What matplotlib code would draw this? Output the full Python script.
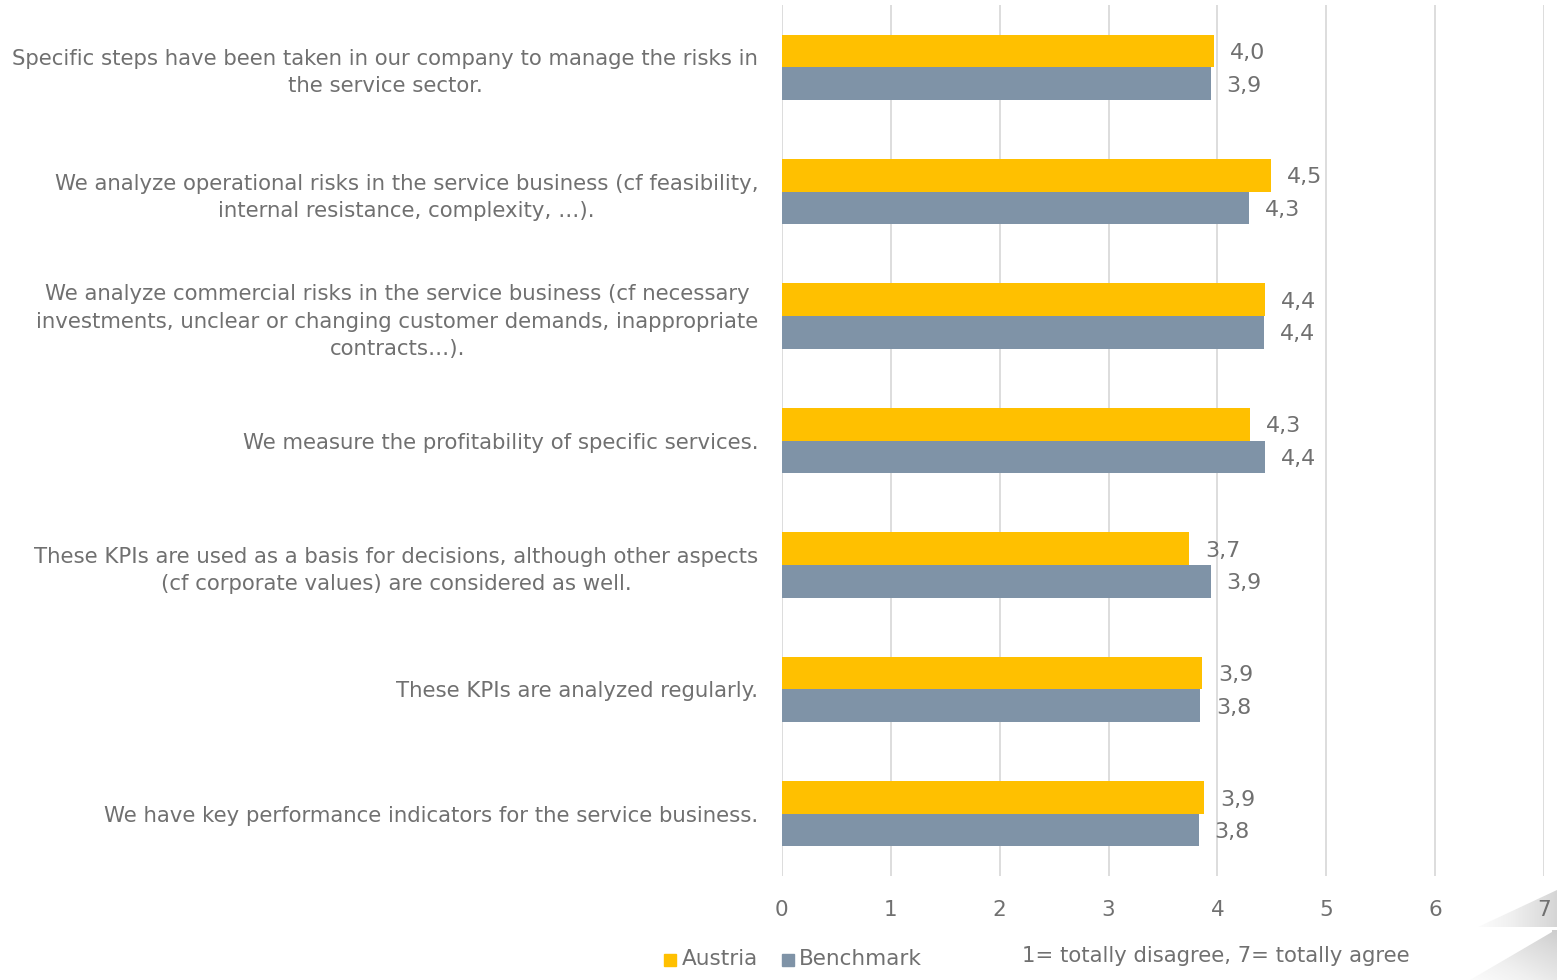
import numpy as np
import matplotlib.pyplot as plt
from matplotlib.patches import Rectangle, Polygon

plt.rcParams['font.family'] = ['DejaVu Sans']

# data, top to bottom
statements = [
    "Specific steps have been taken in our company to manage the risks in\nthe service sector.",
    "We analyze operational risks in the service business (cf feasibility,\ninternal resistance, complexity, \u2026).",
    "We analyze commercial risks in the service business (cf necessary\ninvestments, unclear or changing customer demands, inappropriate\ncontracts\u2026).",
    "We measure the profitability of specific services.",
    "These KPIs are used as a basis for decisions, although other aspects\n(cf corporate values) are considered as well.",
    "These KPIs are analyzed regularly.",
    "We have key performance indicators for the service business.",
]
austria = [3.97, 4.49, 4.44, 4.30, 3.74, 3.86, 3.88]
benchmark = [3.94, 4.29, 4.43, 4.44, 3.94, 3.84, 3.83]
x_ticks = [0, 1, 2, 3, 4, 5, 6, 7]
scale_note = "1= totally disagree, 7= totally agree"

yellow = '#FFC000'
grey_blue = '#7F93A7'
text_col = '#707070'

fig = plt.figure(figsize=(15.57, 9.8), dpi=100)
ax = fig.add_axes([0.5022, 0.1061, 0.4895, 0.8888])

y = np.arange(len(statements))
h = 0.262
ax.barh(y - h / 2, austria, height=h, color=yellow, zorder=3, label='Austria')
ax.barh(y + h / 2, benchmark, height=h, color=grey_blue, zorder=3, label='Benchmark')

for i in range(len(statements)):
    ax.text(austria[i] + 0.145, y[i] - h / 2, f"{austria[i]:.1f}".replace('.', ','),
            va='center_baseline', ha='left', fontsize=16, color=text_col)
    ax.text(benchmark[i] + 0.145, y[i] + h / 2, f"{benchmark[i]:.1f}".replace('.', ','),
            va='center_baseline', ha='left', fontsize=16, color=text_col)

ax.set_xlim(0, 7)
ax.set_ylim(len(statements) - 0.5, -0.5)
ax.set_xticks(x_ticks)
ax.set_yticks(y)
ax.set_yticklabels(statements, fontsize=15.3, color=text_col, multialignment='center',
                   linespacing=1.45)
ax.tick_params(axis='x', length=0, labelsize=15.5, labelcolor=text_col, pad=17)
ax.tick_params(axis='y', length=0, pad=17)
ax.grid(axis='x', color='#DDDDDD', linewidth=1.4, zorder=0)
for s in ax.spines.values():
    s.set_visible(False)

# legend
fig.patches.append(Rectangle((664 / 1557, 1 - 966 / 980), 12 / 1557, 12 / 980,
                             transform=fig.transFigure, color=yellow))
fig.text(682 / 1557, 1 - 959 / 980, 'Austria', fontsize=15.5, color=text_col, va='center')
fig.patches.append(Rectangle((782 / 1557, 1 - 966 / 980), 12 / 1557, 12 / 980,
                             transform=fig.transFigure, color=grey_blue))
fig.text(799 / 1557, 1 - 959 / 980, 'Benchmark', fontsize=15.5, color=text_col, va='center')
fig.text(1022 / 1557, 1 - 956 / 980, scale_note, fontsize=15.2, color=text_col, va='center')

# page-curl decoration in the bottom right corner
deco = fig.add_axes([0, 0, 1, 1], zorder=-1)
deco.set_xlim(0, 1557)
deco.set_ylim(980, 0)
deco.axis('off')
gx = np.linspace(0, 1, 100)
grad = np.tile(gx, (100, 1))
im1 = deco.imshow(grad, extent=(1478, 1557, 927, 890), cmap='Greys', vmin=-0.1, vmax=4.0,
                  aspect='auto', interpolation='bilinear')
tri1 = Polygon([(1478, 927), (1557, 890), (1557, 927)], transform=deco.transData)
im1.set_clip_path(tri1)
diag = (np.add.outer(np.linspace(0, 1, 100), np.linspace(0, 1, 100))) / 2
im2 = deco.imshow(diag, extent=(1470, 1557, 980, 930), cmap='Greys', vmin=-0.1, vmax=3.5,
                  aspect='auto', interpolation='bilinear', origin='lower')
tri2 = Polygon([(1470, 980), (1552, 932), (1552, 930), (1557, 930), (1557, 980)],
               transform=deco.transData)
im2.set_clip_path(tri2)

fig.savefig('out.png', dpi=100)
